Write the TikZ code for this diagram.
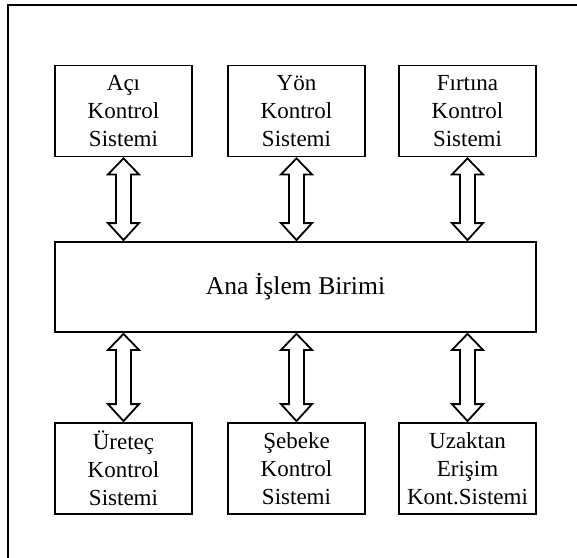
\documentclass[tikz,border=0pt]{standalone}
\usepackage{fontspec}
\setmainfont{Liberation Serif}
\usetikzlibrary{calc}

\tikzset{
    unitbox/.style={draw, line width=0.9pt, minimum width=68.5pt, minimum height=45.5pt,
        inner sep=0pt, align=center, font=\fontsize{11.5}{14}\selectfont},
    mainbox/.style={draw, line width=0.9pt, minimum width=240.5pt, minimum height=45pt,
        inner sep=0pt, font=\fontsize{12.8}{15}\selectfont},
    hollowarrow/.style={draw, line width=0.9pt, line join=miter, fill=white}
}

% #1 upper node, #2 lower node, #3 node giving the column
\newcommand{\linkarrow}[3]{%
    \coordinate (tip-up) at (#3.center |- #1.south);
    \coordinate (tip-down) at (#3.center |- #2.north);
    \draw[hollowarrow] ($(tip-up)+(0,1)$) -- ($(tip-up)+(15.5,17)$) -- ($(tip-up)+(7.5,17)$)
        -- ($(tip-down)+(7.5,-18)$) -- ($(tip-down)+(15.5,-18)$) -- ($(tip-down)+(0,-1)$)
        -- ($(tip-down)+(-15.5,-18)$) -- ($(tip-down)+(-7.5,-18)$)
        -- ($(tip-up)+(-7.5,17)$) -- ($(tip-up)+(-15.5,17)$) -- cycle;
}

\begin{document}
\begin{tikzpicture}[x=0.5pt, y=-0.5pt]
    \useasboundingbox (0,0) rectangle (577,557);
    \clip (0,0) rectangle (577,557);
    \draw[line width=0.9pt] (8,5) rectangle (620,600);

    \node[unitbox] (aci) at (123.5,111) {Açı\\Kontrol\\Sistemi};
    \node[unitbox] (yon) at (296.5,111) {Yön\\Kontrol\\Sistemi};
    \node[unitbox] (firtina) at (467.5,111) {Fırtına\\Kontrol\\Sistemi};

    \node[mainbox] (ana) at (295.5,287) {Ana İşlem Birimi};

    \node[unitbox] (uretec) at (123.5,468.5) {Üreteç\\Kontrol\\Sistemi};
    \node[unitbox] (sebeke) at (296.5,468.5) {Şebeke\\Kontrol\\Sistemi};
    \node[unitbox] (uzaktan) at (467.5,468.5) {Uzaktan\\Erişim\\Kont.Sistemi};

    \foreach \upper/\lower/\column in {aci/ana/aci, yon/ana/yon, firtina/ana/firtina,
        ana/uretec/uretec, ana/sebeke/sebeke, ana/uzaktan/uzaktan}
        \linkarrow{\upper}{\lower}{\column};
\end{tikzpicture}
\end{document}
